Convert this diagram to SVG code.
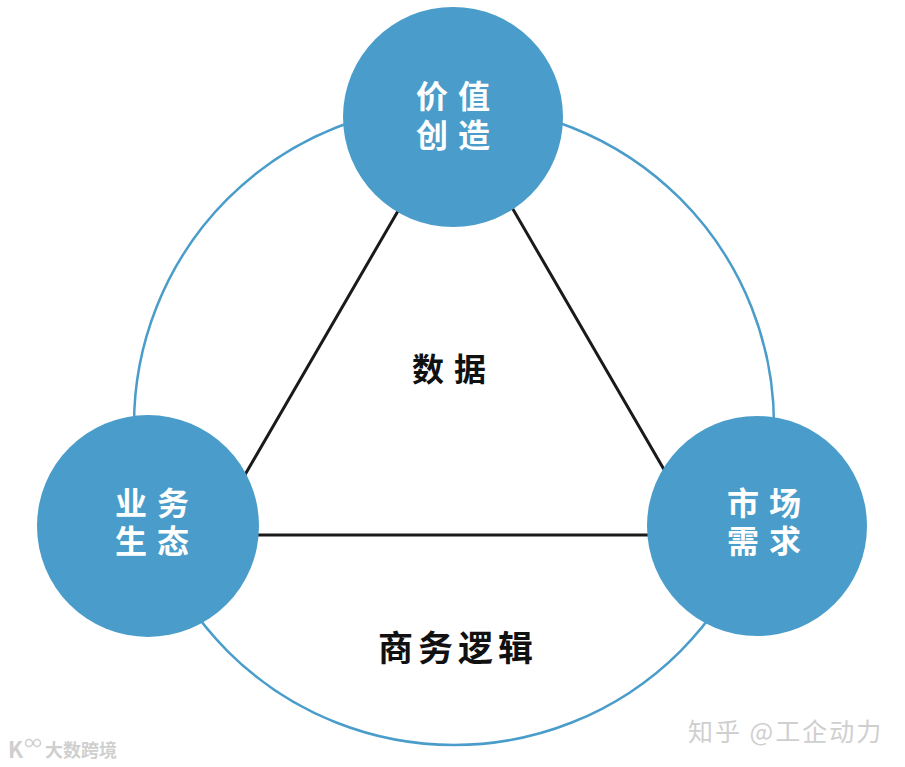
<svg xmlns="http://www.w3.org/2000/svg" width="905" height="767" viewBox="0 0 905 767">
<style>
.node{fill:#4a9dca}
.lbl{font-family:"Noto Sans CJK SC","Noto Sans",sans-serif;font-weight:700;font-size:32px;fill:#ffffff;letter-spacing:10px}
.blk{font-family:"Noto Sans CJK SC","Noto Sans",sans-serif;font-weight:700;fill:#111111}
.wm{font-family:"Noto Sans CJK SC","Noto Sans",sans-serif;fill:#cfcfcf}
</style>
<rect width="905" height="767" fill="#ffffff"/>
<g id="connectors">
<circle cx="454" cy="425" r="320" fill="none" stroke="#4a9dca" stroke-width="2.5"/>
<polygon points="456,111 210,535 702,535" fill="none" stroke="#1a1a1a" stroke-width="3"/>
</g>
<g id="node-top">
<circle class="node" cx="453" cy="117" r="110"/>
<text class="lbl"><tspan x="416" y="108">价值</tspan><tspan x="416" y="147">创造</tspan></text>
</g>
<g id="node-left">
<circle class="node" cx="148" cy="526" r="111"/>
<text class="lbl"><tspan x="115" y="515">业务</tspan><tspan x="115" y="553">生态</tspan></text>
</g>
<g id="node-right">
<circle class="node" cx="757" cy="526" r="110"/>
<text class="lbl"><tspan x="727" y="515">市场</tspan><tspan x="727" y="553">需求</tspan></text>
</g>
<g id="label-center">
<text class="blk" x="412" y="381" font-size="32" letter-spacing="10">数据</text>
</g>
<g id="label-bottom">
<text class="blk" x="378" y="661" font-size="35" letter-spacing="5">商务逻辑</text>
</g>
<g id="watermarks">
<text class="wm" x="8" y="758" font-size="22" font-weight="700">K</text>
<circle cx="29" cy="743" r="3.5" fill="none" stroke="#cfcfcf" stroke-width="1.5"/>
<circle cx="37" cy="743" r="3.5" fill="none" stroke="#cfcfcf" stroke-width="1.5"/>
<text class="wm" x="45" y="757" font-size="18" font-weight="700">大数跨境</text>
<text class="wm" x="688" y="741" font-size="25" letter-spacing="2">知乎 @工企动力</text>
</g>
</svg>
